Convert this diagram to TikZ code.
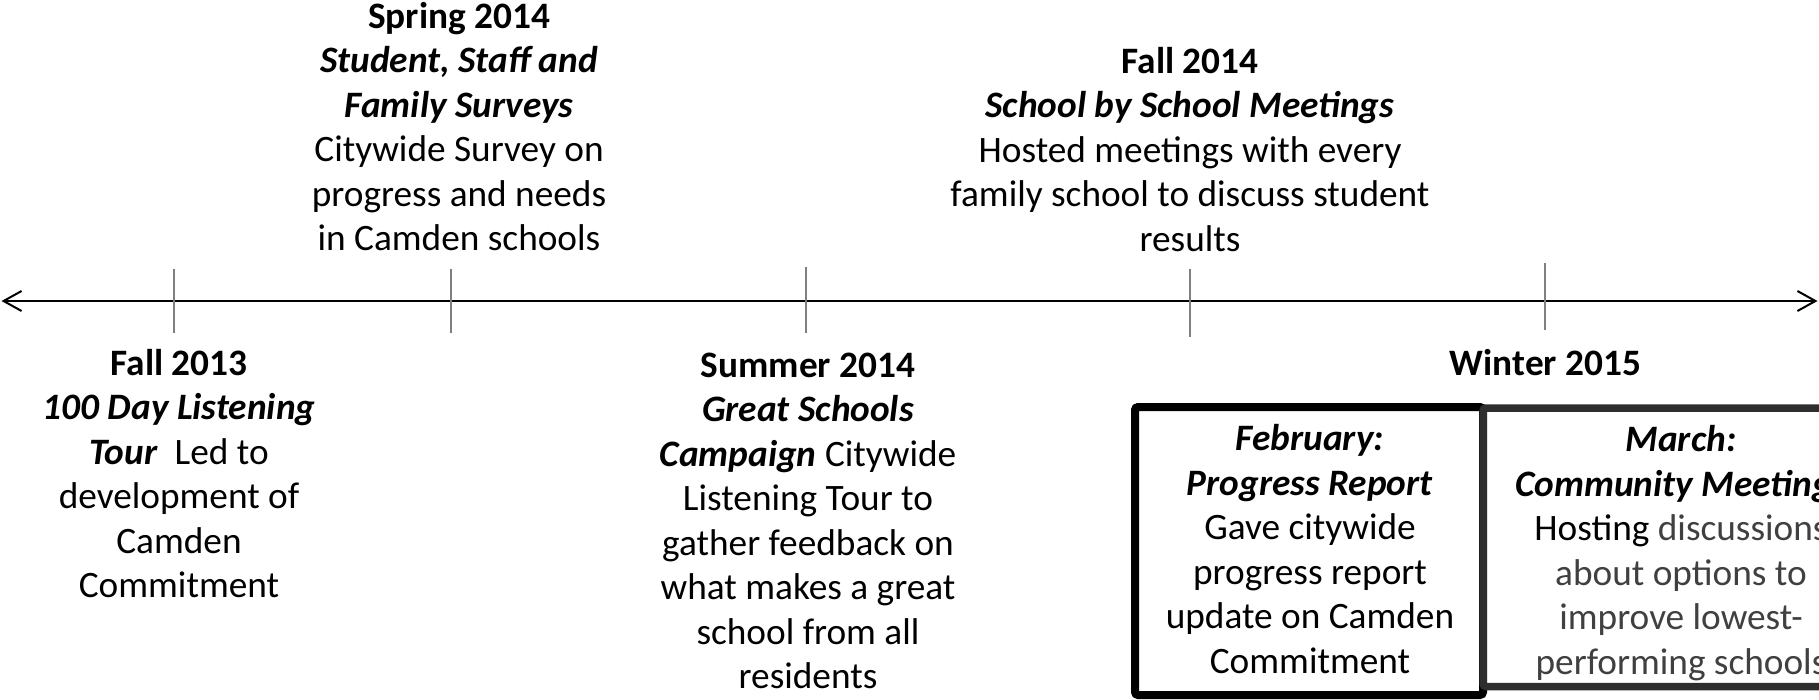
\documentclass[tikz,border=0pt]{standalone}
\usepackage{fontspec}
\setmainfont{Carlito}
\usetikzlibrary{arrows.meta}
\definecolor{tickgray}{HTML}{808080}
\definecolor{boxgray}{HTML}{2E2E2E}
\definecolor{txtgray}{HTML}{404040}
\begin{document}
\begin{tikzpicture}[x=1pt,y=-1pt,
  lbl/.style={align=center, inner sep=0pt, anchor=base, font=\fontsize{37.3}{44.5}\selectfont},
  tickline/.style={draw=tickgray, line width=2pt},
  axisline/.style={line width=2pt, {Straight Barb[length=18pt,width=20pt]}-{Straight Barb[length=18pt,width=20pt]}},
  febbox/.style={draw=black, line width=8pt, rounded corners=3pt},
  marbox/.style={draw=boxgray, line width=7.5pt, rounded corners=3pt},
]
\useasboundingbox (0,0) rectangle (1819,699);
\clip (0,0) rectangle (1819,699);
% axis
\coordinate (axL) at (1.5,301);
\coordinate (axR) at (1817.5,301);
\draw[axisline] (axL) -- (axR);
% ticks
\draw[tickline] (174,269) -- (174,333);
\draw[tickline] (451,269) -- (451,333);
\draw[tickline] (806,267) -- (806,333);
\draw[tickline] (1190,269) -- (1190,337);
\draw[tickline] (1545,263) -- (1545,330);
% boxes
\draw[febbox] (1135,407) rectangle (1483,695);
\draw[marbox] (1483,408) rectangle (1900,686.5);
% texts above (anchor = baseline of last line)
\node[lbl] (spring) at (459,250.5) {\textbf{Spring 2014}\\ \textbf{\textit{Student, Staff and}}\\ \textbf{\textit{Family Surveys}}\\ Citywide Survey on\\ progress and needs\\ in Camden schools};
\node[lbl] (fall14) at (1190,251.3) {\textbf{Fall 2014}\\ \textbf{\textit{School by School Meetings}}\\ Hosted meetings with every\\ family school to discuss student\\ results};
% texts below
\node[lbl] (fall13) at (179,597.5) {\textbf{Fall 2013}\\ \textbf{\textit{100 Day Listening}}\\ \textbf{\textit{Tour}}\ \ Led to\\ development of\\ Camden\\ Commitment};
\node[lbl] (summer) at (808,688.5) {\textbf{Summer 2014}\\ \textbf{\textit{Great Schools}}\\ \textbf{\textit{Campaign}} Citywide\\ Listening Tour to\\ gather feedback on\\ what makes a great\\ school from all\\ residents};
\node[lbl] (winter) at (1545.5,375) {\textbf{Winter 2015}};
\node[lbl] (feb) at (1310,673) {\textbf{\textit{February:}}\\ \textbf{\textit{Progress Report}}\\ Gave citywide\\ progress report\\ update on Camden\\ Commitment};
\node[lbl] (mar) at (1681,674) {\textbf{\textit{March:}}\\ \textbf{\textit{Community Meetings}}\\ Hosting \textcolor{txtgray}{discussions}\\ \textcolor{txtgray}{about options to}\\ \textcolor{txtgray}{improve lowest-}\\ \textcolor{txtgray}{performing schools}};
\end{tikzpicture}
\end{document}
